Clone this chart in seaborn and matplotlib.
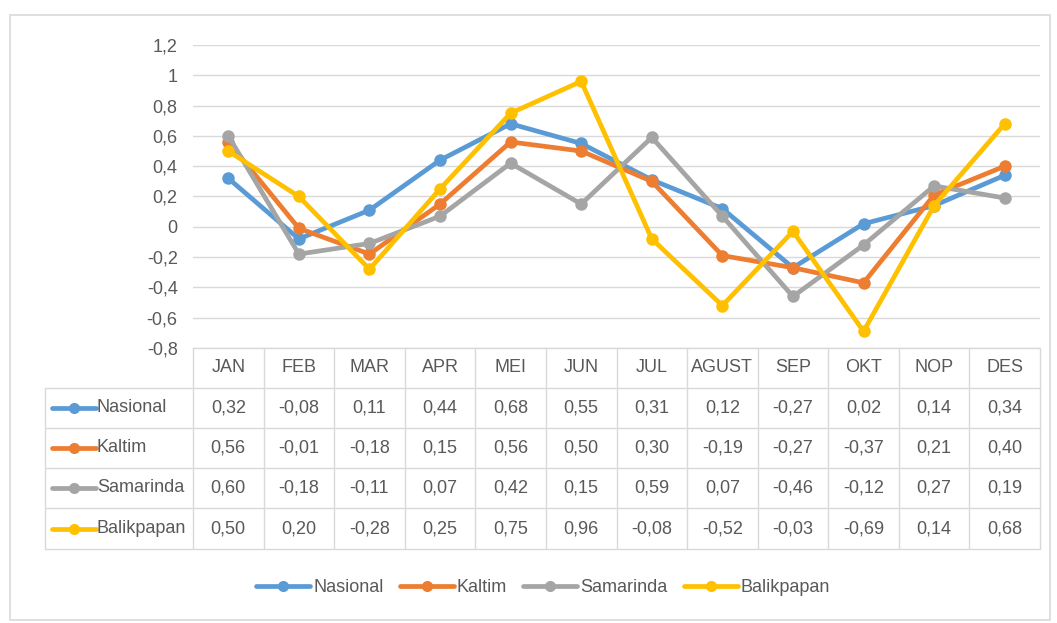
import matplotlib
matplotlib.use("Agg")
import matplotlib.pyplot as plt
from matplotlib.lines import Line2D
from matplotlib.patches import Rectangle
import seaborn as sns
import pandas as pd

months = ["JAN", "FEB", "MAR", "APR", "MEI", "JUN", "JUL", "AGUST", "SEP", "OKT", "NOP", "DES"]
series_names = ["Nasional", "Kaltim", "Samarinda", "Balikpapan"]
nasional = [0.32, -0.08, 0.11, 0.44, 0.68, 0.55, 0.31, 0.12, -0.27, 0.02, 0.14, 0.34]
kaltim = [0.56, -0.01, -0.18, 0.15, 0.56, 0.50, 0.30, -0.19, -0.27, -0.37, 0.21, 0.40]
samarinda = [0.60, -0.18, -0.11, 0.07, 0.42, 0.15, 0.59, 0.07, -0.46, -0.12, 0.27, 0.19]
balikpapan = [0.50, 0.20, -0.28, 0.25, 0.75, 0.96, -0.08, -0.52, -0.03, -0.69, 0.14, 0.68]
yticks = [-0.8, -0.6, -0.4, -0.2, 0, 0.2, 0.4, 0.6, 0.8, 1, 1.2]

colors = ["#5B9BD5", "#ED7D31", "#A5A5A5", "#FFC000"]
values = [nasional, kaltim, samarinda, balikpapan]

sns.set_theme(style="white")
plt.rcParams['font.family'] = ['Liberation Sans', 'DejaVu Sans']
TXT = "#595959"
FS = 13

W, H = 1057, 623
fig = plt.figure(figsize=(W / 100, H / 100), dpi=100)

def fx(px):
    return px / W

def fy(py):
    return 1 - py / H

# outer frame
fig.add_artist(Rectangle((fx(10), fy(620)), fx(1040), fy(15) - fy(620),
                         transform=fig.transFigure, fill=False, edgecolor="#D9D9D9", lw=1.2))

L, R, T, B = 193, 1040, 45, 348
ax = fig.add_axes([fx(L), fy(B), fx(R - L), fy(T) - fy(B)])

rows = []
for name, vals in zip(series_names, values):
    for i, v in enumerate(vals):
        rows.append({"idx": i, "value": v, "series": name})
df = pd.DataFrame(rows)

sns.lineplot(data=df, x="idx", y="value", hue="series", palette=colors,
             hue_order=series_names, marker="o", markersize=9, linewidth=3.4,
             markeredgewidth=0, ax=ax, legend=False)

ax.set_xlim(-0.5, len(months) - 0.5)
ax.set_ylim(-0.8, 1.2)
ax.set_yticks(yticks)
ax.set_yticklabels([("%g" % t).replace(".", ",") for t in yticks], color=TXT, fontsize=FS)
ax.set_xticks([])
ax.set_xlabel("")
ax.set_ylabel("")
ax.tick_params(axis="y", length=0, pad=11)
ax.grid(axis="y", color="#D9D9D9", lw=1)
for s in ax.spines.values():
    s.set_visible(False)

# data table
GRID = "#D9D9D9"
TL = 45
row_edges = [348, 388, 428, 468, 508, 549]
col_w = (R - L) / len(months)
col_edges = [L + k * col_w for k in range(len(months) + 1)]

fig.add_artist(Line2D([fx(TL), fx(TL)], [fy(388), fy(549)], transform=fig.transFigure, color=GRID, lw=1))
for c in col_edges:
    fig.add_artist(Line2D([fx(c), fx(c)], [fy(348), fy(549)], transform=fig.transFigure, color=GRID, lw=1))
fig.add_artist(Line2D([fx(L), fx(R)], [fy(348), fy(348)], transform=fig.transFigure, color=GRID, lw=1))
for r in row_edges[1:]:
    fig.add_artist(Line2D([fx(TL), fx(R)], [fy(r), fy(r)], transform=fig.transFigure, color=GRID, lw=1))

for k, m in enumerate(months):
    cx = (col_edges[k] + col_edges[k + 1]) / 2
    fig.text(fx(cx), fy((row_edges[0] + row_edges[1]) / 2), m, ha="center", va="center",
             color=TXT, fontsize=FS)

for j, (name, vals, col) in enumerate(zip(series_names, values, colors)):
    cy = (row_edges[j + 1] + row_edges[j + 2]) / 2
    fig.add_artist(Line2D([fx(52), fx(96)], [fy(cy), fy(cy)], transform=fig.transFigure,
                          color=col, lw=3.4))
    fig.add_artist(Line2D([fx(74)], [fy(cy)], transform=fig.transFigure,
                          color=col, marker="o", markersize=8, markeredgewidth=0, lw=0))
    fig.text(fx(97), fy(cy), name, ha="left", va="center", color=TXT, fontsize=FS)
    for k, v in enumerate(vals):
        cx = (col_edges[k] + col_edges[k + 1]) / 2
        fig.text(fx(cx), fy(cy), ("%.2f" % v).replace(".", ","), ha="center", va="center",
                 color=TXT, fontsize=FS)

# legend
leg_handles = []
for c in colors:
    h = Line2D([], [], color=c, lw=3.4, marker="o", markersize=8, markeredgewidth=0)
    leg_handles.append(h)
fig.legend(leg_handles, series_names, loc="center", bbox_to_anchor=(fx(543), fy(588)),
           ncol=4, frameon=False, fontsize=FS, labelcolor=TXT, handlelength=3.0,
           handletextpad=0.15, columnspacing=0.9, numpoints=1)

fig.savefig("out.png", dpi=100, facecolor="white")
